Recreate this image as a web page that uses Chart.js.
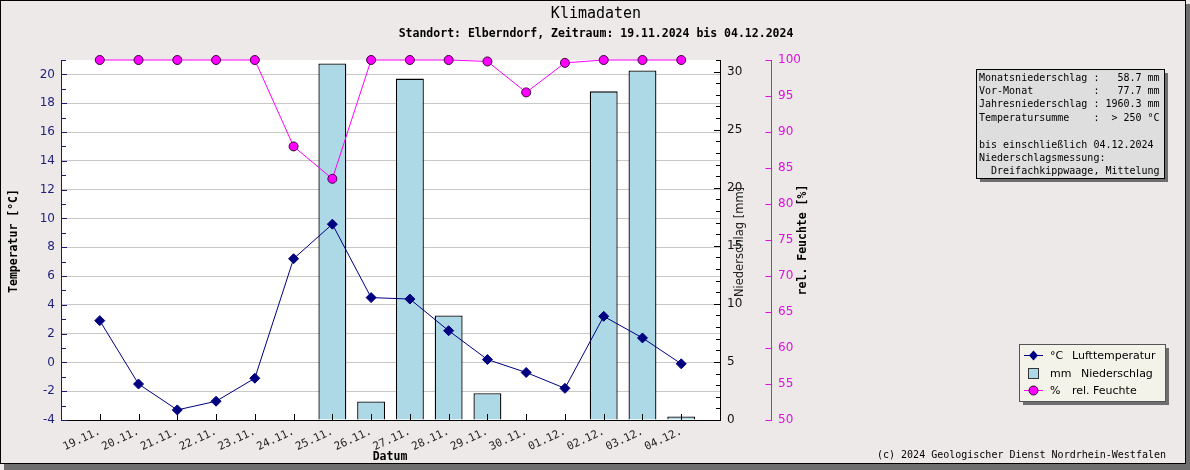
<!DOCTYPE html>
<html>
<head>
<meta charset="utf-8">
<script src="https://cdn.jsdelivr.net/npm/chart.js@4.4.1/dist/chart.umd.min.js"></script>
<style>
    html, body { margin: 0; padding: 0; background: #ece9e8; }
    #klima { display: block; }
</style>
</head>
<body>
<canvas id="klima" width="1190" height="470"></canvas>
<script>
// Messwerte 19.11.2024 - 04.12.2024
const dates = ['19.11.', '20.11.', '21.11.', '22.11.', '23.11.', '24.11.', '25.11.', '26.11.',
               '27.11.', '28.11.', '29.11.', '30.11.', '01.12.', '02.12.', '03.12.', '04.12.'];
const temperature = [2.9, -1.5, -3.3, -2.7, -1.1, 7.2, 9.6, 4.5, 4.4, 2.2, 0.2, -0.7, -1.8, 3.2, 1.7, -0.1];
const precipitation = [0, 0, 0, 0, 0, 0, 30.7, 1.6, 29.4, 9.0, 2.3, 0, 0, 28.3, 30.1, 0.3];
const humidity = [100, 100, 100, 100, 100, 88, 83.5, 100, 100, 100, 99.8, 95.5, 99.6, 100, 100, 100];

const tempTicks = [-4, -2, 0, 2, 4, 6, 8, 10, 12, 14, 16, 18, 20];
const precipTicks = [0, 5, 10, 15, 20, 25, 30];
const humidityTicks = [50, 55, 60, 65, 70, 75, 80, 85, 90, 95, 100];

const infoLines = [
    'Monatsniederschlag :   58.7 mm',
    'Vor-Monat          :   77.7 mm',
    'Jahresniederschlag : 1960.3 mm',
    'Temperatursumme    :  > 250 °C',
    '',
    'bis einschließlich 04.12.2024',
    'Niederschlagsmessung:',
    '  Dreifachkippwaage, Mittelung'
];

const MONO = '"DejaVu Sans Mono", monospace';
const SANS = '"DejaVu Sans", sans-serif';

// leere Kategorie links und rechts, damit die Punkte eine volle Spalte vom Rand haben
const labels = [''].concat(dates, ['']);
function pad(arr) { return [null].concat(arr, [null]); }

const frame = {
    id: 'frame',
    beforeDraw(chart) {
        const ctx = chart.ctx;
        const a = chart.chartArea;
        ctx.save();
        ctx.fillStyle = '#6e6e6e';
        ctx.fillRect(4, 4, 1186, 466);
        ctx.fillStyle = '#ece9e8';
        ctx.fillRect(0, 0, 1186, 464);
        ctx.strokeStyle = '#000';
        ctx.lineWidth = 1;
        ctx.strokeRect(0.5, 0.5, 1185, 463);
        ctx.fillStyle = '#fff';
        ctx.fillRect(a.left, a.top, a.right - a.left, a.bottom - a.top);
        ctx.restore();
    }
};

function line(ctx, x1, y1, x2, y2) {
    ctx.beginPath();
    ctx.moveTo(x1, y1);
    ctx.lineTo(x2, y2);
    ctx.stroke();
}

function vText(ctx, text, x, y, font, color) {
    ctx.save();
    ctx.translate(x, y);
    ctx.rotate(-Math.PI / 2);
    ctx.font = font;
    ctx.fillStyle = color;
    ctx.textAlign = 'center';
    ctx.textBaseline = 'middle';
    ctx.fillText(text, 0, 0);
    ctx.restore();
}

const decorations = {
    id: 'decorations',
    afterDraw(chart) {
        const ctx = chart.ctx;
        const s = chart.scales;
        const a = chart.chartArea;
        ctx.save();
        ctx.lineWidth = 1;

        // Ticks nach innen
        ctx.strokeStyle = '#000';
        for (let i = 1; i <= dates.length; i++) {
            const x = Math.round(s.x.getPixelForTick(i)) + 0.5;
            line(ctx, x, a.bottom, x, a.bottom - 6);
        }
        ctx.strokeStyle = '#1a1a70';
        for (let v = -4; v <= 21; v++) {
            const y = Math.round(s.yT.getPixelForValue(v)) + 0.5;
            line(ctx, a.left, y, a.left + (v % 2 === 0 ? 6 : 5), y);
        }
        ctx.strokeStyle = '#000';
        for (let v = 0; v <= 31; v++) {
            const y = Math.round(s.yP.getPixelForValue(v)) + 0.5;
            line(ctx, a.right, y, a.right - (v % 5 === 0 ? 6 : 4), y);
        }
        ctx.strokeStyle = '#e010e0';
        const hx = s.yH.left + 0.5;
        humidityTicks.forEach(v => {
            const y = Math.round(s.yH.getPixelForValue(v)) + 0.5;
            line(ctx, hx, y, hx - 6, y);
        });

        // Titel
        ctx.fillStyle = '#000';
        ctx.textAlign = 'center';
        ctx.textBaseline = 'middle';
        ctx.font = '15px ' + MONO;
        ctx.fillText('Klimadaten', 596, 14);
        ctx.font = 'bold 11.5px ' + MONO;
        ctx.fillText('Standort: Elberndorf, Zeitraum: 19.11.2024 bis 04.12.2024', 596, 34);

        // Achsentitel
        ctx.fillText('Datum', 390, 457);
        vText(ctx, 'Temperatur [°C]', 14, 241, 'bold 11.5px ' + MONO, '#000');
        vText(ctx, 'Niederschlag [mm]', 740, 242, '11.5px ' + SANS, '#222');
        vText(ctx, 'rel. Feuchte [%]', 803, 240, 'bold 11.5px ' + MONO, '#000');

        // Infobox
        ctx.fillStyle = '#6e6e6e';
        ctx.fillRect(980, 73, 188, 109);
        ctx.fillStyle = '#dedede';
        ctx.fillRect(976, 69, 188, 109);
        ctx.strokeStyle = '#000';
        ctx.strokeRect(976.5, 69.5, 188, 109);
        ctx.fillStyle = '#000';
        ctx.textAlign = 'left';
        ctx.font = '10px ' + MONO;
        infoLines.forEach((t, i) => ctx.fillText(t, 979, 78 + i * 13.4));

        // Legende
        ctx.fillStyle = '#6e6e6e';
        ctx.fillRect(1023, 348, 146, 57);
        ctx.fillStyle = '#f3f3ea';
        ctx.fillRect(1019, 344, 146, 57);
        ctx.strokeStyle = '#555';
        ctx.strokeRect(1019.5, 344.5, 146, 57);

        const rows = [355, 373, 390];
        ctx.strokeStyle = '#000080';
        line(ctx, 1024, rows[0] + 0.5, 1043, rows[0] + 0.5);
        ctx.fillStyle = '#000080';
        ctx.beginPath();
        ctx.moveTo(1033.5, rows[0] - 4.5); ctx.lineTo(1038, rows[0] + 0.5);
        ctx.lineTo(1033.5, rows[0] + 5.5); ctx.lineTo(1029, rows[0] + 0.5);
        ctx.closePath(); ctx.fill();

        ctx.fillStyle = '#add8e6';
        ctx.fillRect(1028, rows[1] - 5, 11, 11);
        ctx.strokeStyle = '#333';
        ctx.strokeRect(1028.5, rows[1] - 4.5, 10, 10);

        ctx.strokeStyle = '#ff00ff';
        line(ctx, 1024, rows[2] + 0.5, 1043, rows[2] + 0.5);
        ctx.fillStyle = '#ff00ff';
        ctx.strokeStyle = '#400040';
        ctx.beginPath();
        ctx.arc(1033.5, rows[2] + 0.5, 4.5, 0, Math.PI * 2);
        ctx.fill(); ctx.stroke();

        ctx.fillStyle = '#000';
        ctx.font = '11px ' + SANS;
        [['°C', 'Lufttemperatur', 1072], ['mm', 'Niederschlag', 1081], ['%', 'rel. Feuchte', 1072]].forEach((r, i) => {
            ctx.fillText(r[0], 1050, rows[i] + 1);
            ctx.fillText(r[1], r[2], rows[i] + 1);
        });

        // Copyright
        ctx.font = '10px ' + MONO;
        ctx.fillText('(c) 2024 Geologischer Dienst Nordrhein-Westfalen', 877, 455);
        ctx.restore();
    }
};

new Chart(document.getElementById('klima'), {
    data: {
        labels: labels,
        datasets: [{
            type: 'line',
            label: 'Lufttemperatur',
            data: pad(temperature),
            yAxisID: 'yT',
            borderColor: '#000080',
            borderWidth: 1,
            pointStyle: 'rectRot',
            pointRadius: 5,
            pointBackgroundColor: '#000080',
            pointBorderColor: '#000080',
            pointBorderWidth: 1,
            tension: 0,
            clip: false,
            order: 1
        }, {
            type: 'line',
            label: 'rel. Feuchte',
            data: pad(humidity),
            yAxisID: 'yH',
            borderColor: '#ff00ff',
            borderWidth: 1,
            pointStyle: 'circle',
            pointRadius: 4.5,
            pointBackgroundColor: '#ff00ff',
            pointBorderColor: '#400040',
            pointBorderWidth: 1,
            tension: 0,
            clip: false,
            order: 2
        }, {
            type: 'bar',
            label: 'Niederschlag',
            data: pad(precipitation),
            yAxisID: 'yP',
            backgroundColor: '#add8e6',
            borderColor: '#000',
            borderWidth: 1.3,
            barPercentage: 0.72,
            categoryPercentage: 1,
            order: 3
        }]
    },
    options: {
        responsive: false,
        animation: false,
        layout: { padding: { left: 0, top: 60, right: 359, bottom: 0 } },
        plugins: {
            legend: { display: false },
            tooltip: { enabled: false }
        },
        scales: {
            x: {
                type: 'category',
                offset: false,
                grid: { display: false, drawTicks: false },
                border: { color: '#000' },
                ticks: {
                    autoSkip: false,
                    minRotation: 25,
                    maxRotation: 25,
                    padding: 5,
                    color: '#222',
                    font: { family: MONO, size: 11 }
                },
                afterFit: s => { s.height = 50; }
            },
            yT: {
                position: 'left',
                min: -4,
                max: 21,
                afterBuildTicks: s => { s.ticks = tempTicks.map(v => ({ value: v })); },
                grid: {
                    color: ctx => ctx.tick && ctx.tick.value === -4 ? 'rgba(0,0,0,0)' : '#c8c8c8',
                    drawTicks: false
                },
                border: { color: '#1a1a70' },
                ticks: { color: '#1f1f7a', padding: 6, font: { family: SANS, size: 12 } },
                afterFit: s => { s.width = 61; }
            },
            yP: {
                position: 'right',
                weight: 1,
                min: 0,
                max: 31,
                afterBuildTicks: s => { s.ticks = precipTicks.map(v => ({ value: v })); },
                grid: { drawOnChartArea: false, drawTicks: false },
                border: { color: '#000' },
                ticks: { color: '#111', padding: 7, font: { family: SANS, size: 12 } },
                afterFit: s => { s.width = 51; }
            },
            yH: {
                position: 'right',
                weight: 2,
                min: 50,
                max: 100,
                afterBuildTicks: s => { s.ticks = humidityTicks.map(v => ({ value: v })); },
                grid: { drawOnChartArea: false, drawTicks: false },
                border: { color: '#e010e0' },
                ticks: { color: '#e010e0', padding: 7, font: { family: SANS, size: 12 } },
                afterFit: s => { s.width = 60; }
            }
        }
    },
    plugins: [frame, decorations]
});
</script>
</body>
</html>
